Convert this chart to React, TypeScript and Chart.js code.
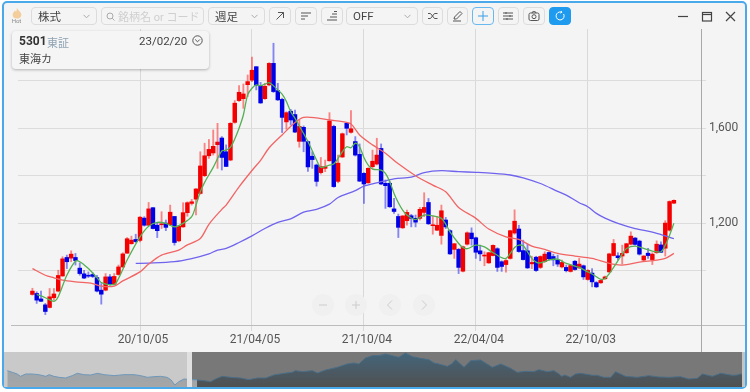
import React, { useEffect, useRef } from "react";
import { Chart, registerables } from "chart.js";

Chart.register(...registerables);

const opens = [899,903,880,855,844,885,913,977,1055,1052,1055,1010,986,980,983,970,917,917,973,942,983,1015,1073,1113,1131,1127,1221,1191,1265,1191,1193,1200,1193,1228,1125,1184,1244,1283,1301,1325,1400,1484,1496,1531,1559,1501,1466,1625,1717,1725,1784,1803,1860,1780,1725,1783,1874,1759,1722,1627,1672,1658,1545,1604,1544,1482,1445,1413,1431,1463,1608,1376,1479,1621,1583,1544,1490,1410,1370,1438,1449,1515,1368,1368,1260,1228,1180,1210,1231,1220,1220,1245,1287,1189,1170,1148,1213,1168,1089,1089,997,1111,1158,1138,1083,1061,1032,1063,1092,1037,1025,1051,1158,1175,1084,1083,1028,1056,1013,1038,1076,1059,1044,1015,1013,996,1039,1011,1020,962,989,949,948,965,994,1063,1062,1061,1075,1111,1137,1124,1044,1073,1046,1075,1108,1094,1170,1284];
const closes = [913,875,870,827,889,901,979,1049,1037,1069,1042,987,968,976,975,913,900,973,942,975,1015,1070,1134,1128,1122,1225,1191,1260,1177,1168,1197,1182,1246,1118,1187,1244,1286,1290,1344,1441,1484,1511,1524,1542,1477,1439,1621,1706,1752,1745,1797,1845,1782,1707,1777,1874,1755,1720,1646,1666,1635,1584,1608,1545,1437,1468,1376,1438,1438,1631,1354,1453,1577,1600,1598,1487,1377,1365,1431,1461,1487,1365,1358,1269,1249,1182,1230,1245,1220,1204,1258,1266,1197,1193,1191,1252,1184,1070,1113,1013,1100,1159,1134,1077,1070,1065,1075,1106,1013,1017,1042,1168,1208,1080,1046,1011,1034,1000,1059,1069,1049,1045,1027,1034,999,1021,1004,1027,973,1000,952,931,958,973,1070,1114,1054,1072,1113,1145,1110,1069,1061,1063,1069,1111,1077,1200,1291,1296];
const highs = [925,910,913,861,924,924,1001,1058,1065,1083,1072,1032,1001,994,990,980,945,987,983,987,1023,1075,1139,1145,1153,1227,1227,1287,1265,1201,1248,1213,1276,1228,1189,1286,1290,1300,1346,1501,1537,1553,1593,1621,1565,1530,1624,1717,1780,1787,1825,1900,1860,1794,1790,1877,1959,1790,1727,1670,1680,1677,1635,1610,1546,1501,1449,1477,1466,1666,1613,1487,1580,1625,1675,1565,1534,1413,1434,1508,1558,1534,1382,1375,1304,1238,1232,1255,1237,1234,1266,1328,1304,1230,1227,1276,1224,1172,1114,1093,1103,1163,1180,1141,1107,1079,1077,1108,1096,1041,1046,1170,1256,1191,1128,1111,1060,1060,1062,1079,1079,1069,1065,1044,1023,1024,1042,1051,1023,1004,1008,953,961,976,1073,1131,1075,1107,1115,1163,1139,1128,1063,1093,1075,1125,1121,1210,1294,1298];
const lows = [896,861,868,814,842,875,910,975,1008,1037,1023,980,966,970,970,910,858,914,938,938,980,1013,1072,1111,1118,1121,1187,1189,1175,1139,1177,1168,1190,1107,1121,1182,1229,1276,1234,1322,1396,1473,1487,1431,1424,1438,1463,1621,1713,1684,1734,1797,1762,1705,1722,1779,1751,1717,1582,1596,1614,1582,1520,1501,1418,1431,1356,1407,1417,1461,1351,1370,1476,1572,1579,1483,1375,1283,1368,1431,1445,1362,1262,1266,1241,1139,1177,1191,1184,1184,1213,1227,1194,1153,1168,1111,1177,1068,1051,987,994,1107,1107,1051,1041,1020,1030,1061,996,996,993,1048,1153,1077,1044,1008,1008,996,1008,1034,1044,1020,1017,1011,994,993,1001,1008,962,959,931,928,945,962,992,1061,1044,1027,1072,1108,1107,1065,1039,1051,1025,1072,1075,1061,1166,1282];

const greenWeeks = [1,3,5,6,8,10,11,13,15,16,19,20,22,25,27,29,31,33,35,37,38,39,40,42,44,45,46,47,48,49,50,51,52,53,54,55,56,57,58,59,60,61,62,64,66,67,69,70,71,72,73,74,75,76,77,78,79,81,82,83,84,85,86,87,89,91,93,95,96,97,99,100,101,103,105,107,109,110,111,112,113,114,115,116,117,118,120,122,124,127,129,130,132,133,134,135,137,138,140,142,144,146,147,148,149];
const greenValues = [899,885,870,889,980,1039,1037,1008,970,949,941,966,1044,1142,1187,1203,1199,1184,1199,1227,1275,1332,1372,1435,1505,1508,1520,1555,1600,1656,1741,1769,1783,1780,1786,1793,1779,1762,1744,1713,1670,1642,1610,1544,1466,1435,1445,1449,1473,1501,1522,1518,1537,1522,1477,1445,1428,1424,1410,1375,1325,1286,1255,1234,1215,1234,1230,1220,1196,1163,1114,1097,1092,1107,1100,1075,1054,1051,1072,1097,1107,1104,1079,1051,1035,1032,1044,1048,1030,1013,994,985,963,966,987,1013,1069,1093,1103,1093,1082,1079,1107,1149,1199];

const redWeeks = [0,3,5,7,10,14,16,19,21,25,27,30,34,36,39,41,44,45,48,51,53,55,58,61,63,66,69,72,74,76,79,82,85,89,93,96,99,103,106,110,113,116,119,122,126,130,134,137,141,145,147,149];
const redValues = [1008,980,969,959,952,945,934,934,956,994,1027,1065,1086,1108,1135,1195,1258,1276,1353,1422,1465,1518,1572,1624,1646,1644,1635,1628,1618,1572,1530,1495,1450,1400,1360,1332,1266,1220,1175,1142,1131,1103,1089,1072,1061,1051,1030,1023,1035,1044,1051,1072];

const blueWeeks = [24,27,33,37,41,43,45,48,51,54,57,60,63,66,69,71,75,77,80,84,88,91,95,99,103,107,111,114,118,122,124,127,129,131,133,136,140,144,147,149];
const blueValues = [1030,1031,1037,1050,1070,1086,1093,1118,1146,1177,1203,1218,1246,1258,1280,1308,1337,1356,1370,1387,1394,1413,1421,1417,1414,1410,1403,1391,1367,1334,1318,1286,1269,1241,1221,1199,1177,1162,1146,1134];

const dateTickWeeks = [25, 51, 77, 103, 129];
const dateTickLabels = ["20/10/05", "21/04/05", "21/10/04", "22/04/04", "22/10/03"];
const priceTicks = [1000, 1200, 1400, 1600, 1800];
const priceLabels = ["", "1,200", "", "1,600", ""];

const overviewWeeks = [0.9,2.3,3.6,4.5,5.9,7.7,9.5,11.4,12.3,13.6,15,16.8,18.6,20,21.8,23.6,25.5,27.3,30,32.7,35.5,37.3,39.1,40.9,42.7,44.5,45.5,46.6,47.7,49.1,50.9,52.7,54.5,56.4,57.7,59.5,61.8,64.5,66.8,69.1,71.4,73.6,76.4,78.6,79.5,81.4,84.1,85.5,87.7,90.9,93.6,95.5,96.8,98.6,100.5,102.3,104.1,105.9,107.7,109.5,111.4,113.6,115.9,117.3,118.6,120.9,122.1,123.2,125.5,127.3,130,133.2,135.5,138.2,140,142.3,144.5,145.9,148.2,150,151.4,152.1,153,154.5,155.9,157.3,160.5,161.8,163.6,165.5,166.8,169.5,172.7,175.9,178.6,181.4,184.5,186.8,189.1,190.5,193.2,195.5,198.6,200,200.9,202.3];
const overviewValues = [47,42,37,30,37,37,35,30,35,30,27,25,32,39,35,34,39,35,32,35,35,32,27,29,30,27,20,4,14,22,20,19,17,14,22,30,27,25,20,25,25,34,39,42,47,44,47,40,49,57,67,70,67,85,92,92,97,92,87,100,89,84,80,70,67,60,67,80,57,77,79,57,67,54,42,45,44,50,44,47,37,30,34,27,37,39,33,33,27,27,44,30,27,32,28,27,29,22,24,37,30,39,33,34,37,35,52];

const selectionStartWeek = 51.5;
const FONT = "Roboto, 'Noto Sans CJK JP', sans-serif";
const up = "#f40000";
const down = "#0000e6";
const upWick = "rgba(255,40,40,0.55)";
const downWick = "rgba(40,40,240,0.55)";

const Btn = ({ x, w, children, style }: any) => (
  <div style={{ position: "absolute", left: x, top: 7, width: w, height: 18, boxSizing: "border-box", border: "1px solid #dcdcdc", borderRadius: 4, display: "flex", alignItems: "center", justifyContent: "center", whiteSpace: "nowrap", ...style }}>
    {children}
  </div>
);
const Icon = ({ children, stroke = "#555" }: any) => (
  <svg width="12" height="12" viewBox="0 0 12 12" fill="none" stroke={stroke} strokeWidth="1">{children}</svg>
);
const Select = ({ x, w, label }: any) => (
  <Btn x={x} w={w} style={{ justifyContent: "flex-start", paddingLeft: 6, fontSize: 11.5, color: "#444" }}>
    {label}
    <svg style={{ position: "absolute", right: 6, top: 6 }} width="7" height="5" viewBox="0 0 7 5" fill="none" stroke="#aaa"><path d="M0.5 0.8 L3.5 3.8 L6.5 0.8" /></svg>
  </Btn>
);
const Nav = ({ x, children }: any) => (
  <div style={{ position: "absolute", left: x - 11, top: 294, width: 22, height: 22, borderRadius: 11, background: "#f0f0f0", display: "flex", alignItems: "center", justifyContent: "center" }}>{children}</div>
);
const Line = ({ l, t, w, h, c }: any) => <div style={{ position: "absolute", left: l, top: t, width: w, height: h, background: c }} />;

export default function App() {
  const mainRef = useRef<HTMLCanvasElement>(null);
  const ovRef = useRef<HTMLCanvasElement>(null);

  useEffect(() => {
    const weeks = opens.map((_, i) => i);
    const isUp = (i: number) => closes[i] >= opens[i];
    const toXY = (xs: number[], ys: number[]) => xs.map((x, i) => ({ x, y: ys[i] }));
    const lineDs = (label: string, xs: number[], ys: number[], color: string, order: number) => ({
      type: "line" as const, label, data: toXY(xs, ys), borderColor: color, borderWidth: 1.3, pointRadius: 0, tension: 0.3, order, fill: false,
    });
    const main = new Chart(mainRef.current!, {
      type: "bar",
      data: {
        datasets: [
          { label: "wick", data: weeks.map((i) => ({ x: i, y: [lows[i], highs[i]] })), backgroundColor: weeks.map((i) => (isUp(i) ? upWick : downWick)), barThickness: 1.2, order: 6, grouped: false } as any,
          { label: "body", data: weeks.map((i) => ({ x: i, y: [opens[i], closes[i]] })), backgroundColor: weeks.map((i) => (isUp(i) ? up : down)), barThickness: 3.8, order: 5, grouped: false } as any,
          lineDs("MA long", blueWeeks, blueValues, "#6f63ee", 3),
          lineDs("MA mid", redWeeks, redValues, "#f26464", 2),
          lineDs("MA short", greenWeeks, greenValues, "#55b055", 1),
        ],
      },
      options: {
        animation: false,
        responsive: false,
        parsing: { xAxisKey: "x", yAxisKey: "y" } as any,
        layout: { padding: { left: 18, top: 29, right: 0, bottom: 0 } },
        plugins: { legend: { display: false }, tooltip: { enabled: false } },
        scales: {
          x: {
            type: "linear", min: -3.345, max: 155.3, offset: false, bounds: "data",
            afterBuildTicks: (ax: any) => { ax.ticks = dateTickWeeks.map((value) => ({ value })); },
            afterFit: (ax: any) => { ax.height = 67; },
            grid: { offset: false, color: "#d9d9d9", lineWidth: 1, tickLength: 6, drawOnChartArea: true },
            border: { color: "#bcbcbc", width: 1 },
            ticks: {
              autoSkip: false, maxRotation: 0, labelOffset: 3, padding: 2, color: "#555", font: { family: FONT, size: 12 },
              callback: (v: any) => dateTickLabels[dateTickWeeks.indexOf(v)] ?? "",
            },
          } as any,
          y: {
            type: "linear", position: "right", min: 770, max: 2019, bounds: "data",
            afterBuildTicks: (ax: any) => { ax.ticks = priceTicks.map((value) => ({ value })); },
            afterFit: (ax: any) => { ax.width = 49; },
            grid: { color: "#dcdcdc", lineWidth: 1, tickLength: 5 },
            border: { color: "#a8a8a8", width: 1 },
            ticks: {
              autoSkip: false, padding: 3, color: "#555", font: { family: FONT, size: 12 },
              callback: (v: any) => priceLabels[priceTicks.indexOf(v)] ?? "",
            },
          } as any,
        },
      },
    } as any);

    const ctx = ovRef.current!.getContext("2d")!;
    const grad = (top: string, bottom: string) => {
      const g = ctx.createLinearGradient(0, 0, 0, 36);
      g.addColorStop(0, top);
      g.addColorStop(1, bottom);
      return g;
    };
    const leftIdx = overviewWeeks.map((w, i) => (w <= selectionStartWeek + 2 ? i : -1)).filter((i) => i >= 0);
    const rightIdx = overviewWeeks.map((w, i) => (w >= selectionStartWeek - 2 ? i : -1)).filter((i) => i >= 0);
    const ov = new Chart(ovRef.current!, {
      type: "line",
      data: {
        datasets: [
          { label: "before", data: leftIdx.map((i) => ({ x: overviewWeeks[i], y: overviewValues[i] })), borderColor: "#6f97b8", borderWidth: 1, pointRadius: 0, fill: "start", backgroundColor: grad("#8ea3b1", "#a6a6a6") },
          { label: "range", data: rightIdx.map((i) => ({ x: overviewWeeks[i], y: overviewValues[i] })), borderColor: "#4a6d86", borderWidth: 1, pointRadius: 0, fill: "start", backgroundColor: grad("#43677e", "#505050") },
        ],
      },
      options: {
        animation: false, responsive: false,
        layout: { padding: 0 },
        plugins: { legend: { display: false }, tooltip: { enabled: false } },
        scales: {
          x: { type: "linear", display: false, min: 0, max: 201.3, offset: false },
          y: { type: "linear", display: false, min: -2, max: 106 },
        },
      },
    } as any);
    return () => { main.destroy(); ov.destroy(); };
  }, []);

  return (
    <div style={{ position: "absolute", left: 0, top: 0, width: 750, height: 392, overflow: "hidden", background: "#fff", fontFamily: FONT }}>
      <div style={{ position: "absolute", left: 2, top: 1, width: 745, height: 388, boxSizing: "border-box", background: "#f4f4f4", border: "2px solid #4aa9ea", borderRadius: 5 }} />
      <div style={{ position: "absolute", left: 4, top: 352, width: 183, height: 35, background: "#c9c9c9" }} />
      <div style={{ position: "absolute", left: 192, top: 352, width: 550, height: 35, background: "#787878" }} />
      <div style={{ position: "absolute", left: 742, top: 352, width: 3, height: 35, background: "#c4c4c4" }} />
      <canvas ref={mainRef} width={750} height={392} style={{ position: "absolute", left: 0, top: 0 }} />
      <canvas ref={ovRef} width={738} height={36} style={{ position: "absolute", left: 4, top: 351 }} />
      <div style={{ position: "absolute", left: 187, top: 352, width: 5, height: 35, background: "#e0e0e0" }} />

      <Line l={11} t={325} w={8} h={1} c="#bcbcbc" />
      <Line l={702} t={325} w={43} h={1} c="#bcbcbc" />
      <Line l={701} t={326} w={1} h={26} c="#a8a8a8" />

      <svg style={{ position: "absolute", left: 11, top: 7 }} width="12" height="12" viewBox="0 0 11 10"><path d="M5.5 0 C6 3 10 4 9.5 7 C9 9.5 7 10 5.5 10 C3.5 10 1.5 9 1.5 6.5 C1.5 5 3 4 3.5 2.8 C4 3.5 4.6 3.7 5 3.5 C5.2 2.5 5.2 1 5.5 0Z" fill="#f3cd9b" /></svg>
      <div style={{ position: "absolute", left: 9, top: 17, width: 15, textAlign: "center", fontSize: 6, color: "#8a8a8a" }}>Hot</div>

      <Select x={31} w={66} label="株式" />
      <Btn x={101} w={103} style={{ justifyContent: "flex-start", paddingLeft: 4, fontSize: 11, color: "#cfcfcf" }}>
        <svg width="9" height="9" viewBox="0 0 9 9" fill="none" stroke="#aaa" style={{ marginRight: 3, flexShrink: 0 }}><circle cx="4" cy="4" r="3" /><path d="M6.2 6.2 L8.5 8.5" /></svg>
        銘柄名 or コード
      </Btn>
      <Select x={208} w={57} label="週足" />
      <Btn x={269} w={22}><Icon><path d="M2.5 9.5 L9.5 2.5 M4 2.5 H9.5 V8" /></Icon></Btn>
      <Btn x={295} w={22}><Icon><path d="M1 3 H11 M1 6 H8 M1 9 H5" /></Icon></Btn>
      <Btn x={321} w={21.5}><Icon><path d="M1 10 H11 M4 7 H11 M6 4 H11 M8 1.5 H11" /></Icon></Btn>
      <Select x={346} w={72} label="OFF" />
      <Btn x={422} w={21}><Icon><path d="M1 3.5 H3.5 L7.5 8.5 H10.5 M1 8.5 H3.5 L7.5 3.5 H10.5" /></Icon></Btn>
      <Btn x={447} w={21}><Icon><path d="M2 9 L2.5 7 L8 1.5 L10 3.5 L4.5 9 Z M1 11 H9" /></Icon></Btn>
      <Btn x={472} w={21.5} style={{ border: "1px solid #69b9ef" }}><Icon stroke="#3a9ee4"><path d="M6 1 V11 M1 6 H11" /></Icon></Btn>
      <Btn x={497.5} w={21.5}><Icon><path d="M1 3 H11 M1 6 H11 M1 9 H11 M4 2 V4 M8 5 V7 M5 8 V10" /></Icon></Btn>
      <Btn x={523} w={22}><Icon><rect x="1" y="3" width="10" height="7.5" rx="1.5" /><circle cx="6" cy="6.7" r="2" /><path d="M4 3 L4.7 1.7 H7.3 L8 3" /></Icon></Btn>
      <Btn x={549} w={22} style={{ background: "#1e9bef", border: "1px solid #1e9bef" }}><Icon stroke="#fff"><path d="M9.6 4 A4 4 0 1 1 7.5 2.2 M7 1 L7.8 2.3 L6.5 3.2" /></Icon></Btn>

      <svg style={{ position: "absolute", left: 676, top: 10 }} width="62" height="13" viewBox="0 0 62 13" fill="none" stroke="#444" strokeWidth="1.2">
        <path d="M2 6.5 H12" />
        <rect x="26.5" y="2.5" width="9" height="8.5" /><path d="M26.5 4.5 H35.5" />
        <path d="M50 2 L59 11 M59 2 L50 11" />
      </svg>

      <div style={{ position: "absolute", left: 12, top: 31, width: 197, height: 38, boxSizing: "border-box", background: "#f5f5f5", borderRadius: 4, boxShadow: "0 1px 3px rgba(0,0,0,0.28)" }}>
        <div style={{ position: "absolute", left: 7, top: 3, fontSize: 12, fontWeight: 700, color: "#333" }}>5301</div>
        <div style={{ position: "absolute", left: 35, top: 3, fontSize: 11, color: "#8fa3b3" }}>東証</div>
        <div style={{ position: "absolute", left: 127, top: 3, fontSize: 11.5, color: "#444" }}>23/02/20</div>
        <svg style={{ position: "absolute", left: 180, top: 4 }} width="11" height="11" viewBox="0 0 11 11" fill="none" stroke="#555"><circle cx="5.5" cy="5.5" r="4.7" /><path d="M3.2 4.5 L5.5 6.8 L7.8 4.5" /></svg>
        <div style={{ position: "absolute", left: 7, top: 19, fontSize: 11, color: "#444" }}>東海カ</div>
      </div>

      <Nav x={323}><svg width="10" height="10" viewBox="0 0 10 10" stroke="#ccc"><path d="M1 5 H9" /></svg></Nav>
      <Nav x={356}><svg width="10" height="10" viewBox="0 0 10 10" stroke="#ccc"><path d="M1 5 H9 M5 1 V9" /></svg></Nav>
      <Nav x={390}><svg width="10" height="10" viewBox="0 0 10 10" fill="none" stroke="#ccc"><path d="M7 0.5 L2.5 5 L7 9.5" /></svg></Nav>
      <Nav x={424}><svg width="10" height="10" viewBox="0 0 10 10" fill="none" stroke="#ccc"><path d="M3 0.5 L7.5 5 L3 9.5" /></svg></Nav>
    </div>
  );
}
